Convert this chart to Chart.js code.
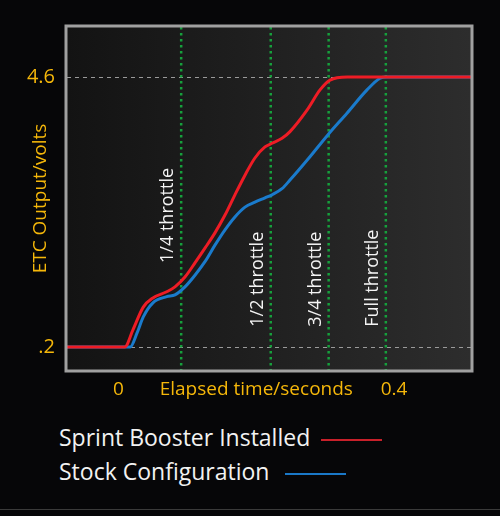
<!DOCTYPE html>
<html>
<head>
<meta charset="utf-8">
<script src="https://cdn.jsdelivr.net/npm/chart.js@4.4.1/dist/chart.umd.min.js"></script>
<style>
  html, body { margin: 0; padding: 0; background: #060608; }
  #wrap { position: relative; width: 500px; height: 516px; background: #060608; overflow: hidden; }
  #box { position: absolute; left: 0; top: 0; width: 500px; height: 410px; }
  #legend { position: absolute; left: 59px; top: 420px; font-family: "Open Sans", sans-serif; font-size: 23px; color: #f2f2f2; }
  .row { position: relative; height: 34px; line-height: 34px; white-space: nowrap; }
  .key { display: inline-block; width: 61px; height: 2px; margin-left: 11px; vertical-align: middle; }
  .row + .row .key { margin-left: 16px; }
  #edge { position: absolute; left: 0; top: 509px; width: 500px; height: 1px; background: #3a3a3a; }
</style>
</head>
<body>
<div id="wrap">
  <div id="box"><canvas id="etcChart"></canvas></div>
  <div id="legend"></div>
  <div id="edge"></div>
</div>
<script>
// Dati (tempo in secondi, tensione in volt)
const TIME_BOOSTER = [-0.075, 0.009, 0.021, 0.036, 0.050, 0.070, 0.082, 0.0965, 0.111, 0.1255, 0.140, 0.1546, 0.169, 0.1836, 0.198, 0.2126, 0.2228, 0.2373, 0.2489, 0.2736, 0.2925, 0.307, 0.332, 0.512];
const VOLT_BOOSTER = [0.2, 0.2, 0.48, 0.85, 1.00, 1.10, 1.18, 1.34, 1.57, 1.81, 2.06, 2.35, 2.68, 3.00, 3.28, 3.46, 3.52, 3.60, 3.71, 4.06, 4.39, 4.55, 4.6, 4.6];

const TIME_STOCK = [-0.075, 0.017, 0.027, 0.036, 0.050, 0.070, 0.082, 0.0965, 0.111, 0.1255, 0.140, 0.1546, 0.169, 0.1836, 0.198, 0.2126, 0.2228, 0.2373, 0.2489, 0.2779, 0.3041, 0.3316, 0.3607, 0.3796, 0.3897, 0.512];
const VOLT_STOCK = [0.2, 0.2, 0.43, 0.69, 0.92, 1.02, 1.05, 1.18, 1.37, 1.59, 1.86, 2.11, 2.32, 2.48, 2.56, 2.63, 2.68, 2.78, 2.92, 3.30, 3.66, 4.01, 4.39, 4.58, 4.6, 4.6];

const SERIES_NAMES = ['Sprint Booster Installed', 'Stock Configuration'];
const SERIES_COLORS = ['#ee1c25', '#1a7bcc'];
const LEGEND_COLORS = ['#c8202a', '#1a78c8'];

// Linee verticali della farfalla
const THROTTLE_TIME = [0.091, 0.221, 0.305, 0.388];
const THROTTLE_LABELS = ['1/4 throttle', '1/2 throttle', '3/4 throttle', 'Full throttle'];
const THROTTLE_LABEL_VOLT = [1.57, 0.53, 0.53, 0.53];

// Tick degli assi
const X_TICKS = [0, 0.2, 0.4];
const X_TICK_LABELS = ['0', 'Elapsed time/seconds', '0.4'];
const Y_TICKS = [0.2, 4.6];
const Y_TICK_LABELS = ['.2', '4.6'];

const GOLD = '#f5b70a';
const FONT = '"Open Sans", sans-serif';

function toPoints(xs, ys) {
    return xs.map((x, i) => ({ x: x, y: ys[i] }));
}

// Plugin per sfondo, linee tratteggiate, linee verdi ed etichette
const decorPlugin = {
    id: 'decor',
    beforeDatasetsDraw(chart) {
        const { ctx, chartArea: a, scales } = chart;
        ctx.save();
        const g = ctx.createLinearGradient(a.left, 0, a.right, 0);
        g.addColorStop(0, '#131313');
        g.addColorStop(1, '#2d2d2d');
        ctx.fillStyle = g;
        ctx.fillRect(a.left, a.top, a.right - a.left, a.bottom - a.top);

        // linee orizzontali tratteggiate
        ctx.strokeStyle = '#9a9a9a';
        ctx.lineWidth = 1;
        ctx.setLineDash([4, 4]);
        Y_TICKS.forEach(v => {
            const y = Math.round(scales.y.getPixelForValue(v)) + 0.5;
            ctx.beginPath();
            ctx.moveTo(a.left, y);
            ctx.lineTo(a.right, y);
            ctx.stroke();
        });

        // linee verdi punteggiate
        ctx.strokeStyle = '#16a03c';
        ctx.lineWidth = 2.5;
        ctx.setLineDash([2.5, 3.5]);
        THROTTLE_TIME.forEach(t => {
            const x = scales.x.getPixelForValue(t);
            ctx.beginPath();
            ctx.moveTo(x, a.top);
            ctx.lineTo(x, a.bottom);
            ctx.stroke();
        });
        ctx.setLineDash([]);

        // etichette ruotate
        ctx.fillStyle = '#f4f4f4';
        ctx.font = '18px ' + FONT;
        ctx.textAlign = 'left';
        ctx.textBaseline = 'middle';
        THROTTLE_TIME.forEach((t, i) => {
            const x = scales.x.getPixelForValue(t) - 13;
            const y = scales.y.getPixelForValue(THROTTLE_LABEL_VOLT[i]);
            ctx.save();
            ctx.translate(x, y);
            ctx.rotate(-Math.PI / 2);
            ctx.fillText(THROTTLE_LABELS[i], 0, 0);
            ctx.restore();
        });
        ctx.restore();
    },
    afterDraw(chart) {
        const { ctx, chartArea: a } = chart;
        ctx.save();
        ctx.strokeStyle = '#a0a0a0';
        ctx.lineWidth = 3;
        ctx.strokeRect(a.left - 1, a.top - 1, a.right - a.left + 2, a.bottom - a.top + 2);
        ctx.restore();
    }
};

function buildLegend() {
    const el = document.getElementById('legend');
    SERIES_NAMES.forEach((name, i) => {
        const row = document.createElement('div');
        row.className = 'row';
        row.textContent = name;
        const key = document.createElement('span');
        key.className = 'key';
        key.style.background = LEGEND_COLORS[i];
        row.appendChild(key);
        el.appendChild(row);
    });
}

document.addEventListener('DOMContentLoaded', () => {
    buildLegend();
    const ctx = document.getElementById('etcChart').getContext('2d');
    new Chart(ctx, {
        type: 'line',
        data: {
            datasets: [
                {
                    label: SERIES_NAMES[0],
                    data: toPoints(TIME_BOOSTER, VOLT_BOOSTER),
                    borderColor: SERIES_COLORS[0],
                    borderWidth: 3,
                    pointRadius: 0,
                    fill: false,
                    cubicInterpolationMode: 'monotone',
                    order: 1
                },
                {
                    label: SERIES_NAMES[1],
                    data: toPoints(TIME_STOCK, VOLT_STOCK),
                    borderColor: SERIES_COLORS[1],
                    borderWidth: 3,
                    pointRadius: 0,
                    fill: false,
                    cubicInterpolationMode: 'monotone',
                    order: 2
                }
            ]
        },
        options: {
            responsive: true,
            maintainAspectRatio: false,
            animation: false,
            layout: { padding: { top: 27, right: 29, left: 0, bottom: 0 } },
            scales: {
                x: {
                    type: 'linear',
                    min: -0.0747,
                    max: 0.5116,
                    grid: { display: false, drawTicks: false },
                    border: { display: false },
                    afterBuildTicks: scale => { scale.ticks = X_TICKS.map(v => ({ value: v })); },
                    afterFit: scale => { scale.height = 40; },
                    ticks: {
                        padding: 8,
                        color: GOLD,
                        font: { family: FONT, size: 19 },
                        maxRotation: 0,
                        autoSkip: false,
                        callback: (v, i) => X_TICK_LABELS[i]
                    }
                },
                y: {
                    min: -0.175,
                    max: 5.415,
                    grid: { display: false, drawTicks: false },
                    border: { display: false },
                    afterBuildTicks: scale => { scale.ticks = Y_TICKS.map(v => ({ value: v })); },
                    afterFit: scale => { scale.width = 67; },
                    ticks: {
                        padding: 12,
                        color: GOLD,
                        font: { family: FONT, size: 20 },
                        autoSkip: false,
                        callback: (v, i) => Y_TICK_LABELS[i]
                    },
                    title: {
                        display: true,
                        text: 'ETC Output/volts',
                        color: GOLD,
                        font: { family: FONT, size: 19 },
                        padding: { top: 29, bottom: 0 }
                    }
                }
            },
            plugins: {
                legend: { display: false },
                tooltip: { enabled: false }
            }
        },
        plugins: [decorPlugin]
    });
});
</script>
</body>
</html>
